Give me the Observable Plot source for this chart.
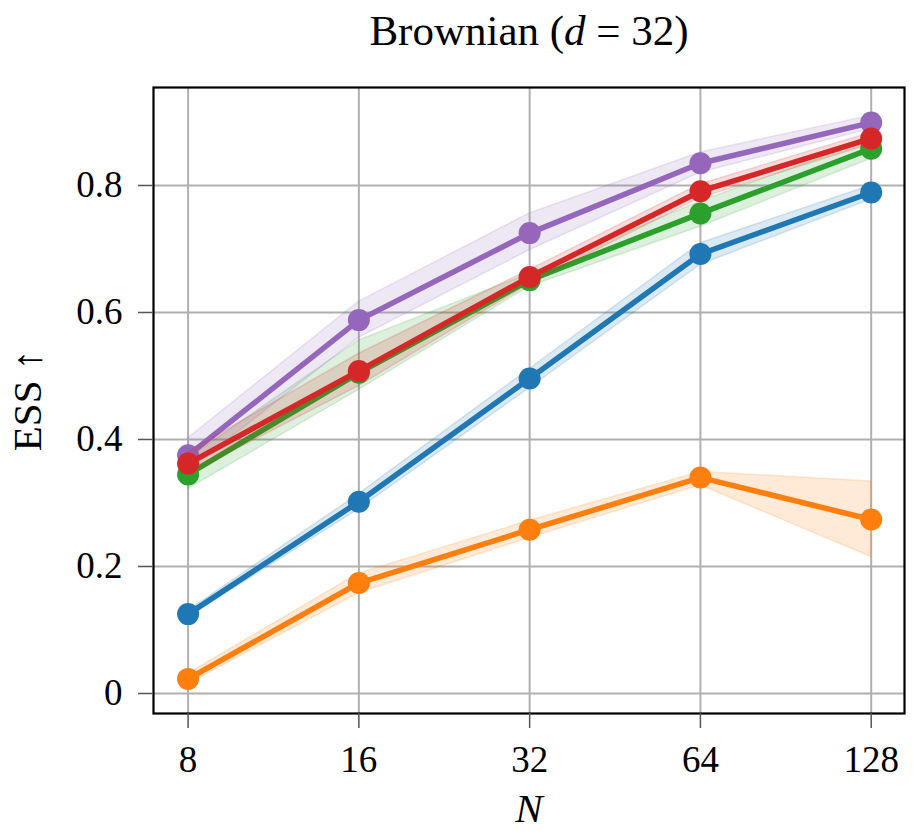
<!DOCTYPE html>
<html>
<head>
<meta charset="utf-8">
<script src="https://cdn.jsdelivr.net/npm/d3@7"></script>
<script src="https://cdn.jsdelivr.net/npm/@observablehq/plot@0.6"></script>
<style>
  body { margin: 0; background: #fff; }
  #chart svg { font-family: "Liberation Serif", "DejaVu Serif", serif; }
</style>
</head>
<body>
<div id="chart"></div>
<script>
// ---- data ----
const N = [8, 16, 32, 64, 128];
const xTickLabels = ["8", "16", "32", "64", "128"];
const yTicks = [0, 0.2, 0.4, 0.6, 0.8];
const yTickLabels = ["0", "0.2", "0.4", "0.6", "0.8"];

const title = "Brownian (d = 32)";
const xLabel = "N";
const yLabel = "ESS \u2191";

// drawing order (later on top)
const seriesNames = ["blue", "orange", "green", "purple", "red"];
const seriesColors = ["#1f77b4", "#ff7f0e", "#2ca02c", "#9467bd", "#d62728"];

const blueMean   = [0.125, 0.302, 0.496, 0.692, 0.789];
const blueLo     = [0.120, 0.290, 0.481, 0.675, 0.778];
const blueHi     = [0.130, 0.314, 0.511, 0.709, 0.800];

const orangeMean = [0.023, 0.174, 0.258, 0.340, 0.274];
const orangeLo   = [0.015, 0.158, 0.245, 0.328, 0.215];
const orangeHi   = [0.031, 0.189, 0.272, 0.349, 0.334];

const greenMean  = [0.345, 0.505, 0.651, 0.756, 0.858];
const greenLo    = [0.322, 0.478, 0.641, 0.735, 0.842];
const greenHi    = [0.370, 0.556, 0.661, 0.775, 0.872];

const purpleMean = [0.375, 0.588, 0.725, 0.835, 0.899];
const purpleLo   = [0.350, 0.560, 0.698, 0.820, 0.889];
const purpleHi   = [0.402, 0.617, 0.756, 0.852, 0.910];

const redMean    = [0.362, 0.508, 0.656, 0.791, 0.874];
const redLo      = [0.345, 0.484, 0.645, 0.780, 0.865];
const redHi      = [0.380, 0.535, 0.667, 0.802, 0.883];

const means = [blueMean, orangeMean, greenMean, purpleMean, redMean];
const los   = [blueLo, orangeLo, greenLo, purpleLo, redLo];
const his   = [blueHi, orangeHi, greenHi, purpleHi, redHi];

const seriesData = seriesNames.map((name, s) =>
  N.map((n, i) => ({ series: name, N: n, y: means[s][i], lo: los[s][i], hi: his[s][i] }))
);

const seriesMarks = seriesData.flatMap((data, s) => {
  const c = seriesColors[s];
  return [
    Plot.areaY(data, { x: "N", y1: "lo", y2: "hi", fill: c, fillOpacity: 0.16, stroke: c, strokeOpacity: 0.16, strokeWidth: 1.5 }),
    Plot.line(data, { x: "N", y: "y", stroke: c, strokeWidth: 5.5 }),
    Plot.dot(data, { x: "N", y: "y", r: 11, fill: c, stroke: "none" })
  ];
});

const chart = Plot.plot({
  width: 913,
  height: 834,
  marginLeft: 153,
  marginRight: 9,
  marginTop: 87,
  marginBottom: 121,
  style: { fontFamily: "'Liberation Serif', 'DejaVu Serif', serif", fontSize: "37px", color: "black", background: "white", overflow: "visible" },
  x: { type: "log", base: 2, domain: [Math.pow(2, 3 - 0.2025), Math.pow(2, 7 + 0.195)] },
  y: { domain: [-0.0315, 0.9543] },
  marks: [
    Plot.gridX(N, { stroke: "#b0b0b0", strokeOpacity: 1, strokeWidth: 2 }),
    Plot.gridY(yTicks, { stroke: "#b0b0b0", strokeOpacity: 1, strokeWidth: 2 }),
    ...seriesMarks,
    Plot.frame({ stroke: "black", strokeWidth: 2.2 }),
    Plot.axisX(N, { tickSize: 15, tickPadding: 17, stroke: "#555", strokeWidth: 1.5, fontSize: 37,
      tickFormat: d => xTickLabels[N.indexOf(d)], label: null }),
    Plot.axisY(yTicks, { tickSize: 15, tickPadding: 16, stroke: "#555", strokeWidth: 1.5, fontSize: 37,
      tickFormat: d => yTickLabels[yTicks.indexOf(d)], label: null }),
    Plot.text([title], { frameAnchor: "top", dy: -56, lineAnchor: "middle", textAnchor: "middle", fontSize: 43, text: d => d }),
    Plot.text([xLabel], { frameAnchor: "bottom", dy: 95, lineAnchor: "middle", textAnchor: "middle", fontSize: 41, fontStyle: "italic", text: d => d }),
    Plot.text([yLabel], { frameAnchor: "left", dx: -126, rotate: -90, lineAnchor: "middle", textAnchor: "middle", fontSize: 41, text: d => d })
  ]
});

// italicise the "d" in the title
d3.select(chart).selectAll("text").each(function () {
  if (this.textContent === title) {
    const el = d3.select(this);
    el.text(null);
    el.append("tspan").text("Brownian (");
    el.append("tspan").attr("font-style", "italic").text("d");
    el.append("tspan").text(" = 32)");
  }
});

document.getElementById("chart").appendChild(chart);
</script>
</body>
</html>
